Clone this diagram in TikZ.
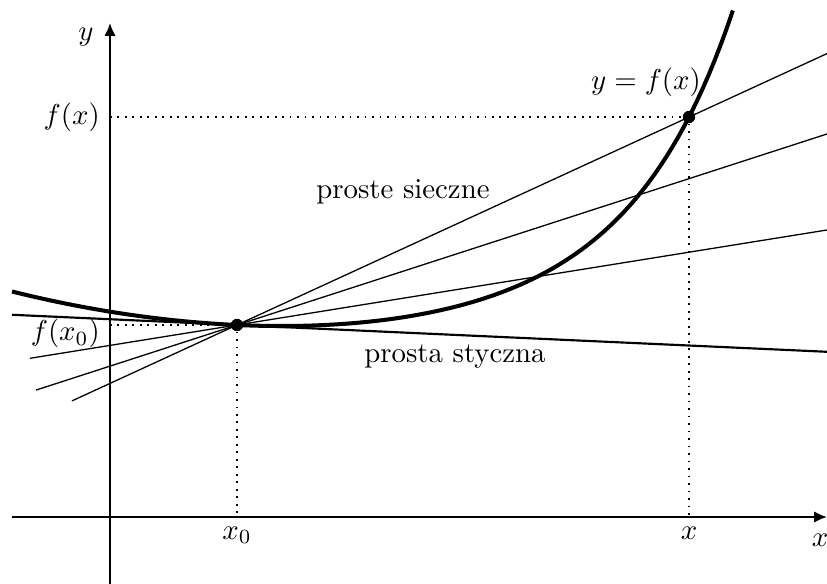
\documentclass[tikz,border=0pt]{standalone}
\usepackage{amsmath}
\usetikzlibrary{arrows.meta}
\tikzset{
  os/.style={line width=0.8pt,-{Latex[length=4.5pt,width=4pt]}},
  sieczna/.style={line width=0.45pt},
  styczna/.style={line width=0.75pt},
  wykres/.style={line width=1.4pt},
  rzut/.style={dotted,line width=0.6pt},
  punkt/.style={circle,fill,inner sep=0pt,minimum size=4.2pt}
}
\begin{document}
\begin{tikzpicture}[x=1.22cm,y=1.22cm]
\useasboundingbox (-1.10,-0.67) rectangle (7.17,5.17);
% osie
\coordinate (xa) at (-0.98,0); \coordinate (xb) at (7.17,0);
\coordinate (ya) at (0,-0.67); \coordinate (yb) at (0,4.94);
\draw[os](xa)--(xb);
\draw[os](ya)--(yb);
\node (lx) at (7.10,-0.23) {$x$};
\node (ly) at (-0.24,4.80) {$y$};
% punkty i rzuty
\node[punkt] (P0) at (1.27,1.92) {};
\node[punkt] (P) at (5.79,4.00) {};
\coordinate (P0x) at (1.27,0); \coordinate (P0y) at (0,1.92);
\coordinate (Px) at (5.79,0); \coordinate (Py) at (0,4.00);
\draw[rzut](P0y)--(P0)--(P0x);
\draw[rzut](Py)--(P)--(Px);
\node[below] (lx0) at (P0x) {$x_0$};
\node[below] (lxx) at (Px) {$x$};
\node[left,yshift=-3pt] (lfx0) at (P0y) {$f(x_0)$};
\node[left] (lfx) at (Py) {$f(x)$};
% proste
\coordinate (s1a) at (-0.38,1.161); \coordinate (s1b) at (7.17,4.634);
\coordinate (s2a) at (-0.74,1.269); \coordinate (s2b) at (7.17,3.83);
\coordinate (s3a) at (-0.80,1.587); \coordinate (s3b) at (7.17,2.87);
\coordinate (ta) at (-0.98,2.022); \coordinate (tb) at (7.17,1.652);
\draw[sieczna](s1a)--(s1b);
\draw[sieczna](s2a)--(s2b);
\draw[sieczna](s3a)--(s3b);
\draw[styczna](ta)--(tb);
% wykres
\draw[wykres,domain=-0.98:6.23,samples=120] plot (\x,{1.92+0.0102*(exp(1.1*(\x-1.27))-1-1.1*(\x-1.27))+0.0428*(\x-1.27)*(\x-1.27)-0.0454*(\x-1.27)});
\node[punkt] at (P0) {};
\node[punkt] at (P) {};
\node (ls) at (2.93,3.25) {proste sieczne};
\node (lt) at (3.45,1.60) {prosta styczna};
\node (lf) at (5.36,4.35) {$y=f(x)$};
\end{tikzpicture}
\end{document}
